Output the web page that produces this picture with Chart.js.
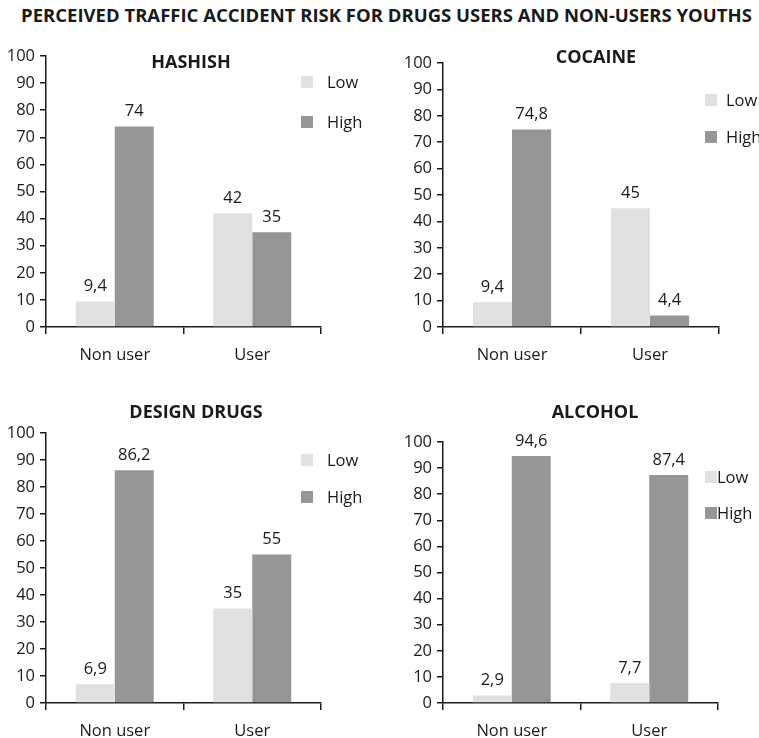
<!DOCTYPE html>
<html>
<head>
<meta charset="utf-8">
<script src="https://cdn.jsdelivr.net/npm/chart.js@4/dist/chart.umd.min.js"></script>
<style>
  html, body { margin: 0; padding: 0; background: #fff; }
  body { width: 759px; height: 738px; position: relative; overflow: hidden; font-family: "Open Sans", sans-serif; }
  #title { position: absolute; left: 0; top: 2px; width: 773px; text-align: center; font-weight: bold; font-size: 18.5px; line-height: 26px; color: #1a1a1a; white-space: nowrap; }
  canvas { position: absolute; }
</style>
</head>
<body>
<div id="title">PERCEIVED TRAFFIC ACCIDENT RISK FOR DRUGS USERS AND NON-USERS YOUTHS</div>
<canvas id="c1"></canvas>
<canvas id="c2"></canvas>
<canvas id="c3"></canvas>
<canvas id="c4"></canvas>
<script>
// Groups on the category axis
const categories = ['Non user', 'User'];
const seriesNames = ['Low', 'High'];

// Percentages per substance: [Non user, User]
const hashishLow = [9.4, 42];
const hashishHigh = [74, 35];
const cocaineLow = [9.4, 45];
const cocaineHigh = [74.8, 4.4];
const designLow = [6.9, 35];
const designHigh = [86.2, 55];
const alcoholLow = [2.9, 7.7];
const alcoholHigh = [94.6, 87.4];

const yTicks = [0, 10, 20, 30, 40, 50, 60, 70, 80, 90, 100];

const LOW_COLOR = '#e1e1e1';
const HIGH_COLOR = '#969696';
const FONT = '"Open Sans", sans-serif';
const TEXT = '#1a1a1a';
const FONT_SIZE = 16.5;

// Canvas box and plot rectangle for each panel (page pixels)
const panels = [
  { id: 'c1', name: 'HASHISH', low: hashishLow, high: hashishHigh,
    box: [0, 40, 380, 340], plot: [46, 56, 321, 327],
    titlePos: [191, 63], legend: { x: 301, y1: 82, y2: 122, gap: 14 } },
  { id: 'c2', name: 'COCAINE', low: cocaineLow, high: cocaineHigh,
    box: [380, 40, 379, 340], plot: [443, 63, 719, 327],
    titlePos: [596, 58], legend: { x: 705, y1: 100, y2: 137, gap: 9 } },
  { id: 'c3', name: 'DESIGN DRUGS', low: designLow, high: designHigh,
    box: [0, 390, 380, 348], plot: [46, 433, 321, 703],
    titlePos: [196, 413], legend: { x: 301, y1: 460, y2: 497, gap: 14 } },
  { id: 'c4', name: 'ALCOHOL', low: alcoholLow, high: alcoholHigh,
    box: [380, 390, 379, 348], plot: [443, 442, 718, 703],
    titlePos: [595, 413], legend: { x: 705, y1: 477, y2: 513, gap: 0 } }
];

function fmt(v) { return String(v).replace('.', ','); }

// Draws panel title, value labels and the legend
const decorations = {
  id: 'decorations',
  afterDatasetsDraw(chart, args, opts) {
    const ctx = chart.ctx;
    const ox = opts.box[0], oy = opts.box[1];
    ctx.save();
    ctx.fillStyle = TEXT;
    ctx.textAlign = 'center';
    ctx.textBaseline = 'middle';
    ctx.font = 'bold 18px ' + FONT;
    ctx.fillText(opts.name, opts.titlePos[0] - ox, opts.titlePos[1] - oy);

    ctx.font = FONT_SIZE + 'px ' + FONT;
    chart.data.datasets.forEach((ds, di) => {
      chart.getDatasetMeta(di).data.forEach((bar, i) => {
        ctx.fillText(fmt(ds.data[i]), bar.x, bar.y - 15);
      });
    });

    const lg = opts.legend;
    const items = [[seriesNames[0], LOW_COLOR, lg.y1], [seriesNames[1], HIGH_COLOR, lg.y2]];
    ctx.textAlign = 'left';
    items.forEach(([label, color, y]) => {
      ctx.fillStyle = color;
      ctx.fillRect(lg.x - ox, y - oy - 6, 12, 12);
      ctx.fillStyle = TEXT;
      ctx.fillText(label, lg.x - ox + 12 + lg.gap, y - oy + 1);
    });
    ctx.restore();
  }
};

panels.forEach(p => {
  const [cx, cy, cw, ch] = p.box;
  const [l, t, r, b] = p.plot;
  const el = document.getElementById(p.id);
  el.style.left = cx + 'px';
  el.style.top = cy + 'px';
  el.width = cw;
  el.height = ch;
  el.style.width = cw + 'px';
  el.style.height = ch + 'px';

  new Chart(el, {
    type: 'bar',
    data: {
      labels: categories,
      datasets: [
        { label: seriesNames[0], data: p.low, backgroundColor: LOW_COLOR },
        { label: seriesNames[1], data: p.high, backgroundColor: HIGH_COLOR }
      ]
    },
    options: {
      responsive: false,
      animation: false,
      devicePixelRatio: 1,
      categoryPercentage: 0.567,
      barPercentage: 1,
      layout: { padding: { top: t - cy, right: cx + cw - r, left: 0, bottom: 0 } },
      plugins: {
        legend: { display: false },
        title: { display: false },
        tooltip: { enabled: false },
        decorations: { box: p.box, name: p.name, titlePos: p.titlePos, legend: p.legend }
      },
      scales: {
        x: {
          grid: { display: true, offset: true, drawOnChartArea: false, drawTicks: true, tickLength: 7, color: '#1a1a1a', lineWidth: 1.5 },
          border: { display: true, color: '#1a1a1a', width: 1.5 },
          ticks: { color: TEXT, font: { family: FONT, size: FONT_SIZE }, padding: 11 },
          afterFit(scale) { scale.height = cy + ch - b; }
        },
        y: {
          min: 0, max: 100,
          afterBuildTicks(scale) { scale.ticks = yTicks.map(v => ({ value: v })); },
          grid: { display: true, drawOnChartArea: false, drawTicks: true, tickLength: 6, color: '#1a1a1a', lineWidth: 1.5 },
          border: { display: true, color: '#1a1a1a', width: 1.5 },
          ticks: { color: TEXT, font: { family: FONT, size: FONT_SIZE }, padding: 5 },
          afterFit(scale) { scale.width = l - cx; }
        }
      }
    },
    plugins: [decorations]
  });
});
</script>
</body>
</html>
